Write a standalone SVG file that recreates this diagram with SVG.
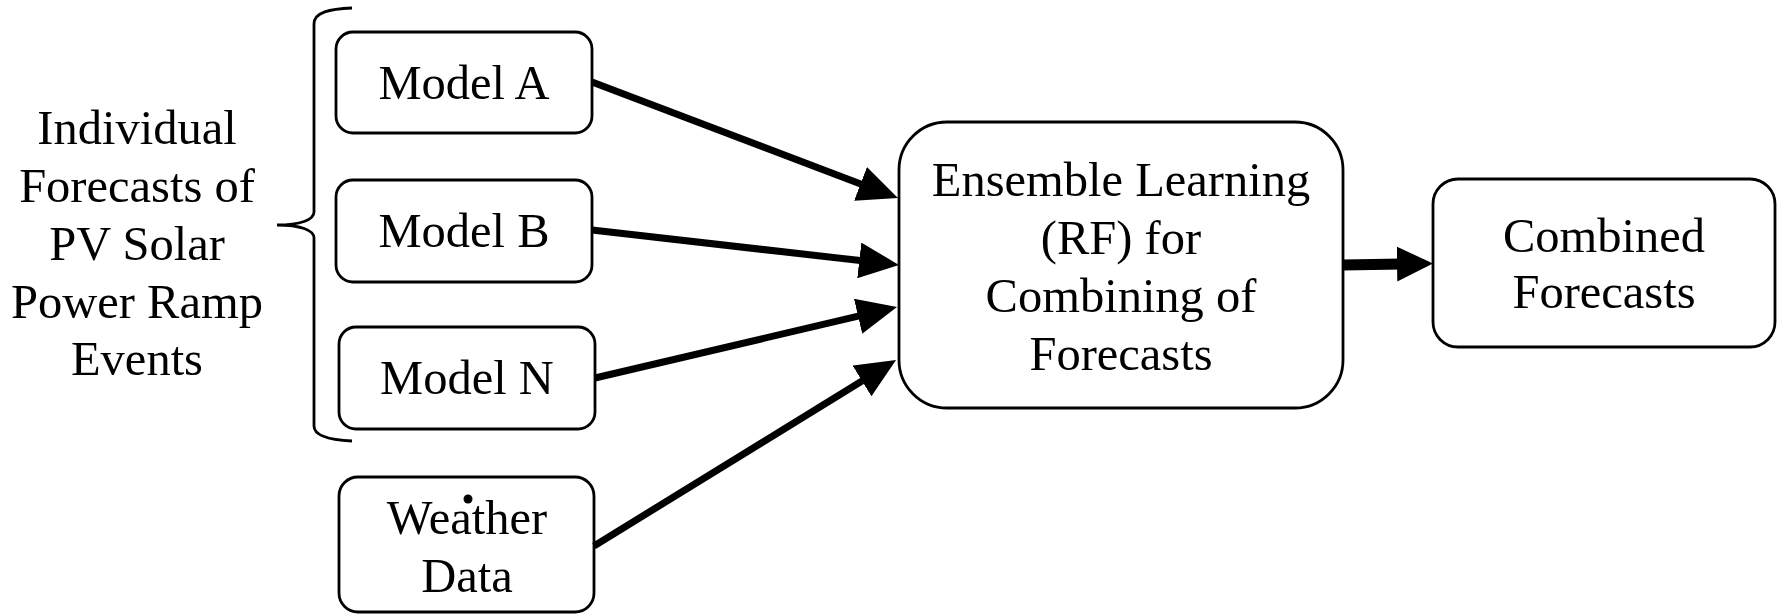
<svg xmlns="http://www.w3.org/2000/svg" width="1777" height="615" viewBox="0 0 1777 615">
  <style>
    .box { fill: #ffffff; stroke: #000000; stroke-width: 2.8; }
    .lbl { font-family: "Liberation Serif", "Times New Roman", serif; font-size: 48.5px; fill: #000000; text-anchor: middle; }
    .brace { fill: none; stroke: #000000; stroke-width: 2.8; }
    .link { fill: none; stroke: #000000; stroke-width: 7; }
    .link-thick { fill: none; stroke: #000000; stroke-width: 11; }
  </style>
  <defs>
    <marker id="head" markerUnits="userSpaceOnUse" markerWidth="40" markerHeight="36" refX="10" refY="18" orient="auto">
      <path d="M0,0 L40,18 L0,36 Z" fill="#000000"/>
    </marker>
    <marker id="head-big" markerUnits="userSpaceOnUse" markerWidth="36" markerHeight="36" refX="5" refY="18" orient="auto">
      <path d="M0,0.5 L36,18 L0,35.5 Z" fill="#000000"/>
    </marker>
  </defs>

  <rect width="1777" height="615" fill="#ffffff"/>

  <!-- caption and brace grouping the individual models -->
  <g id="group-label">
    <text class="lbl" x="137" y="144">Individual</text>
    <text class="lbl" x="137" y="202">Forecasts of</text>
    <text class="lbl" x="137" y="260">PV Solar</text>
    <text class="lbl" x="137" y="318">Power Ramp</text>
    <text class="lbl" x="137" y="375">Events</text>
    <path class="brace" d="M352,8 C330,9 314,12 314,24 L314,212 C314,220 300,225 277,225 C300,225 314,230 314,238 L314,426 C314,436 330,440 352,441"/>
  </g>

  <g id="model-a">
    <rect class="box" x="336" y="32" width="256" height="101" rx="17"/>
    <text class="lbl" x="464" y="99">Model A</text>
  </g>

  <g id="model-b">
    <rect class="box" x="336" y="180" width="256" height="102" rx="17"/>
    <text class="lbl" x="464" y="247">Model B</text>
  </g>

  <g id="model-n">
    <rect class="box" x="339" y="327" width="256" height="102" rx="17"/>
    <text class="lbl" x="467" y="394">Model N</text>
  </g>

  <g id="weather-data">
    <rect class="box" x="339" y="477" width="255" height="135" rx="19"/>
    <text class="lbl" x="467" y="534">Weather</text>
    <text class="lbl" x="467" y="592">Data</text>
    <circle cx="468" cy="499" r="4.5" fill="#000000"/>
  </g>

  <g id="ensemble">
    <rect class="box" x="899" y="122" width="444" height="286" rx="48"/>
    <text class="lbl" x="1121" y="196">Ensemble Learning</text>
    <text class="lbl" x="1121" y="254">(RF) for</text>
    <text class="lbl" x="1121" y="312">Combining of</text>
    <text class="lbl" x="1121" y="370">Forecasts</text>
  </g>

  <g id="combined">
    <rect class="box" x="1433" y="179" width="342" height="168" rx="25"/>
    <text class="lbl" x="1604" y="252">Combined</text>
    <text class="lbl" x="1604" y="308">Forecasts</text>
  </g>

  <!-- connectors -->
  <g id="connectors">
    <path class="link" d="M592,82 L869.9,187.4" marker-end="url(#head)"/>
    <path class="link" d="M592,230 L869.2,261.6" marker-end="url(#head)"/>
    <path class="link" d="M595,378 L867.8,313.9" marker-end="url(#head)"/>
    <path class="link" d="M594,546 L870.5,375.7" marker-end="url(#head)"/>
    <path class="link-thick" d="M1343,265 L1402,264" marker-end="url(#head-big)"/>
  </g>
</svg>
